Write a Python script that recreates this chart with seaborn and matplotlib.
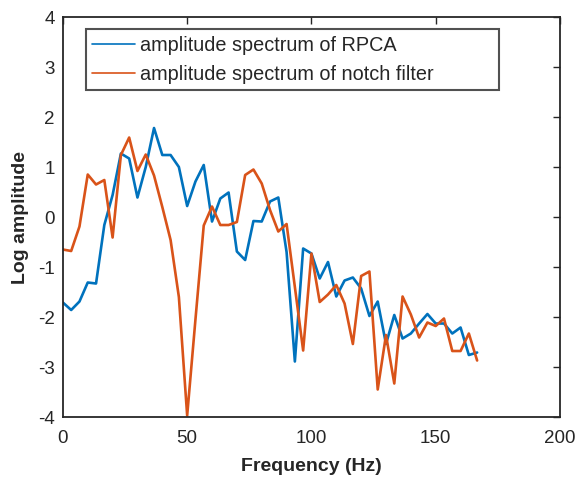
import numpy as np
import pandas as pd
import matplotlib
matplotlib.use("Agg")
import matplotlib.pyplot as plt
import seaborn as sns

freq_step = 10 / 3
rpca = [-1.71, -1.86, -1.69, -1.31, -1.33, -0.16, 0.44, 1.27, 1.17, 0.39,
        1.00, 1.78, 1.24, 1.24, 1.00, 0.22, 0.71, 1.04, -0.09, 0.37,
        0.49, -0.69, -0.86, -0.08, -0.09, 0.31, 0.39, -0.70, -2.89, -0.63,
        -0.73, -1.23, -0.90, -1.59, -1.27, -1.21, -1.43, -1.98, -1.69, -2.54,
        -1.96, -2.43, -2.33, -2.13, -1.94, -2.13, -2.13, -2.33, -2.21, -2.76,
        -2.71]
notch = [-0.65, -0.68, -0.19, 0.85, 0.65, 0.74, -0.41, 1.24, 1.59, 0.92,
         1.25, 0.83, 0.20, -0.46, -1.60, -3.97, -2.05, -0.17, 0.21, -0.16,
         -0.16, -0.10, 0.84, 0.95, 0.67, 0.14, -0.29, -0.14, -1.40, -2.67,
         -0.73, -1.70, -1.55, -1.36, -1.73, -2.54, -1.18, -1.09, -3.45, -2.36,
         -3.33, -1.59, -1.95, -2.41, -2.11, -2.18, -2.03, -2.68, -2.68, -2.33,
         -2.87]
labels = ["amplitude spectrum of RPCA", "amplitude spectrum of notch filter"]
xticks = [0, 50, 100, 150, 200]
yticks = [-4, -3, -2, -1, 0, 1, 2, 3, 4]

freq = np.arange(len(rpca)) * freq_step
df = pd.DataFrame({
    "Frequency": np.concatenate([freq, freq]),
    "Value": np.concatenate([rpca, notch]),
    "Series": [labels[0]] * len(rpca) + [labels[1]] * len(notch),
})

sns.set_theme(style="white")
plt.rcParams["font.family"] = ["Liberation Sans", "DejaVu Sans"]

fig = plt.figure(figsize=(5.77, 4.78), dpi=100)
ax = fig.add_axes([0.109, 0.1276, 0.8615, 0.8368])
sns.lineplot(data=df, x="Frequency", y="Value", hue="Series",
             palette=["#0072BD", "#D95319"], linewidth=1.9, ax=ax,
             estimator=None, sort=False)

ax.set_xlim(0, 200)
ax.set_ylim(-4, 4)
ax.set_xticks(xticks)
ax.set_yticks(yticks)
ax.set_xticklabels([str(t) for t in xticks])
ax.set_yticklabels([str(t) for t in yticks])
ax.tick_params(direction="in", length=5, width=1.0, colors="#262626",
               labelsize=13.5, top=True, right=True, labelcolor="#262626")
ax.tick_params(axis="x", pad=9)
ax.tick_params(axis="y", pad=6)
for s in ax.spines.values():
    s.set_visible(True)
    s.set_color("#262626")
    s.set_linewidth(1.3)

ax.set_xlabel("Frequency (Hz)", fontsize=14, fontweight="bold", color="#262626", labelpad=8)
ax.set_ylabel("Log amplitude", fontsize=14, fontweight="bold", color="#262626", labelpad=6)

leg = ax.legend(loc="upper left", bbox_to_anchor=(0.0463, 0.97, 0.831, 0.0),
                mode="expand", fontsize=14.3,
                frameon=True, fancybox=False, handlelength=2.15, handletextpad=0.25,
                borderpad=0.33, labelspacing=0.52, borderaxespad=0)
leg.get_frame().set_edgecolor("#262626")
leg.get_frame().set_linewidth(1.5)
for line in leg.get_lines():
    line.set_linewidth(1.2)

fig.savefig("out.png", dpi=100)
